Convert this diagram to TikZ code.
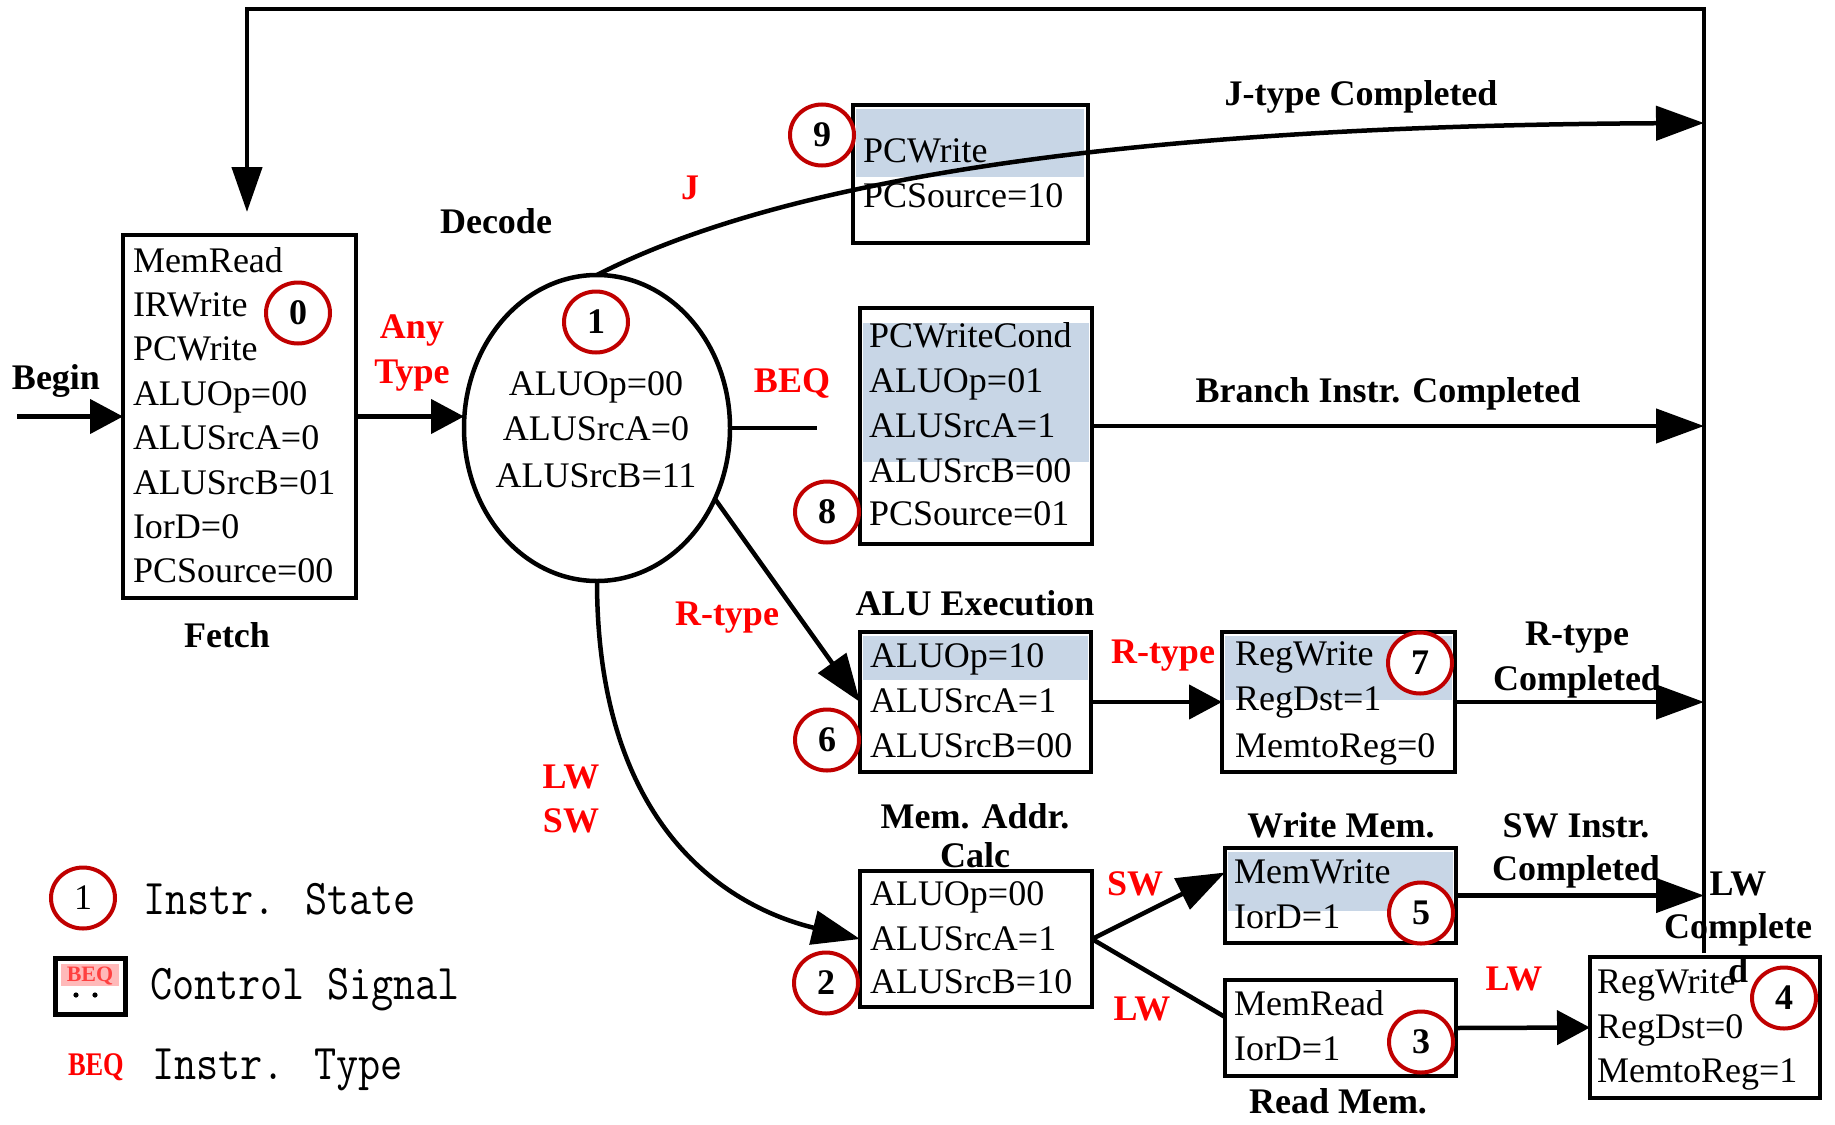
\documentclass[tikz,border=0pt]{standalone}
\usepackage{fontspec}
\setmainfont{Liberation Serif}
\usepackage{graphicx}
\usetikzlibrary{arrows.meta,shapes.geometric,calc}
\definecolor{stred}{RGB}{192,0,0}
\definecolor{lblred}{RGB}{255,0,0}
\definecolor{shadec}{RGB}{200,214,230}
\definecolor{pinkc}{RGB}{255,185,185}
\newcommand\legfnt{\ttfamily\fontsize{50}{50}\selectfont}
\begin{document}
\begin{tikzpicture}[x=1pt,y=-1pt,
  every node/.style={inner sep=0pt, outer sep=0pt},
  txt/.style={anchor=base west, font=\fontsize{36}{36}\selectfont},
  ctxt/.style={anchor=base, font=\fontsize{36}{36}\selectfont},
  lbl/.style={anchor=base, font=\fontsize{36}{36}\selectfont\bfseries},
  rlbl/.style={lbl, text=lblred},
  stbox/.style={draw, line width=4.5pt, fill=white, rectangle, anchor=north west},
  snum/.style={ellipse, draw=stred, line width=4pt, fill=white, minimum width=64pt, minimum height=61pt, font=\fontsize{36}{36}\selectfont\bfseries},
  conn/.style={line width=4.5pt},
  sarr/.style={conn, -{Triangle[length=33pt,width=34pt]}},
  larr/.style={conn, -{Triangle[length=48pt,width=34pt]}},
  legtxt/.style={anchor=base west, font=\legfnt}
]
\useasboundingbox (0,0) rectangle (1835,1124);
\fill[white] (0,0) rectangle (1835,1124);

% coordinates
\coordinate (begin) at (17,416.5);
\coordinate (vtop) at (1704,9);
\coordinate (vbot) at (1704,953);
\coordinate (ltop) at (247,9);
\coordinate (jend) at (1704,123);
\coordinate (beqend) at (817,428);

% state boxes
\node[stbox, minimum width=233pt, minimum height=363pt] (fetch) at (123,235) {};
\node[ellipse, draw, line width=4.5pt, fill=white, minimum width=266pt, minimum height=306pt] (decode) at (597,428) {};
\node[stbox, minimum width=235pt, minimum height=138pt] (b9) at (853,105) {};
\node[stbox, minimum width=232pt, minimum height=236pt] (b8) at (860,308) {};
\node[stbox, minimum width=231pt, minimum height=140pt] (b6) at (860,632) {};
\node[stbox, minimum width=233pt, minimum height=140pt] (b7) at (1222,632) {};
\node[stbox, minimum width=232pt, minimum height=136pt] (b2) at (860,871) {};
\node[stbox, minimum width=231pt, minimum height=95pt] (b5) at (1225,848) {};
\node[stbox, minimum width=231pt, minimum height=96pt] (b3) at (1225,980) {};
\node[stbox, minimum width=230pt, minimum height=141pt] (b4) at (1590,957) {};

% highlighted parts
\fill[shadec] (856,109) rectangle (1084,177);
\fill[shadec] (863,323) rectangle (1089,462);
\fill[shadec] (863,636) rectangle (1088,680);
\fill[shadec] (1225,636) rectangle (1452,700);
\fill[shadec] (1228,852) rectangle (1453,911);

% box texts
\foreach \t [count=\i] in {MemRead,IRWrite,PCWrite,ALUOp=00,ALUSrcA=0,ALUSrcB=01,IorD=0,PCSource=00}
  \node[txt] (ft\i) at (133,{272+44.4*(\i-1)}) {\t};
\foreach \t/\y [count=\i] in {ALUOp=00/395,ALUSrcA=0/440,ALUSrcB=11/487}
  \node[ctxt] (dt\i) at (596,\y) {\t};
\foreach \t/\y [count=\i] in {PCWrite/162,PCSource=10/207}
  \node[txt] (t9\i) at (863,\y) {\t};
\foreach \t/\y [count=\i] in {PCWriteCond/347,ALUOp=01/392,ALUSrcA=1/437,ALUSrcB=00/482,PCSource=01/525}
  \node[txt] (t8\i) at (869,\y) {\t};
\foreach \t/\y [count=\i] in {ALUOp=10/667,ALUSrcA=1/712,ALUSrcB=00/757}
  \node[txt] (t6\i) at (870,\y) {\t};
\foreach \t/\y [count=\i] in {RegWrite/665,RegDst=1/710,MemtoReg=0/757}
  \node[txt] (t7\i) at (1235,\y) {\t};
\foreach \t/\y [count=\i] in {ALUOp=00/905,ALUSrcA=1/950,ALUSrcB=10/993}
  \node[txt] (t2\i) at (870,\y) {\t};
\foreach \t/\y [count=\i] in {MemWrite/883,IorD=1/928}
  \node[txt] (t5\i) at (1234,\y) {\t};
\foreach \t/\y [count=\i] in {MemRead/1015,IorD=1/1060}
  \node[txt] (t3\i) at (1234,\y) {\t};
\foreach \t/\y [count=\i] in {RegWrite/993,RegDst=0/1038,MemtoReg=1/1082}
  \node[txt] (t4\i) at (1597,\y) {\t};

% labels
\node[lbl] (lbegin) at (56,389) {Begin};
\node[lbl] (lfetch) at (227,647) {Fetch};
\node[rlbl] (lany) at (412,338) {Any};
\node[rlbl] (ltype) at (412,383) {Type};
\node[lbl] (ldecode) at (496,233) {Decode};
\node[rlbl] (lj) at (690,199) {J};
\node[lbl] (ljdone) at (1361,105) {J-type Completed};
\node[rlbl] (lbeq) at (792,392) {BEQ};
\node[lbl] (lbdone) at (1388,402) {Branch Instr. Completed};
\node[rlbl] (lr1) at (727,625) {R-type};
\node[lbl] (lalu) at (975,615) {ALU Execution};
\node[rlbl] (lr2) at (1163,663) {R-type};
\node[lbl] (lrd1) at (1577,645) {R-type};
\node[lbl] (lrd2) at (1577,690) {Completed};
\node[rlbl] (llw1) at (571,788) {LW};
\node[rlbl] (lsw1) at (571,832) {SW};
\node[lbl] (lmem1) at (975,828) {Mem. Addr.};
\node[lbl] (lmem2) at (975,867) {Calc};
\node[lbl] (lwm) at (1341,837) {Write Mem.};
\node[lbl] (lsd1) at (1576,837) {SW Instr.};
\node[lbl] (lsd2) at (1576,880) {Completed};
\node[rlbl] (lsw2) at (1135,895) {SW};
\node[rlbl] (llw2) at (1142,1020) {LW};
\node[rlbl] (llw3) at (1514,990) {LW};
\node[lbl] (lld1) at (1738,895) {LW};
\node[lbl] (lld2) at (1738,938) {Complete};
\node[lbl] (lld3) at (1738,982) {d};
\node[lbl] (lrm) at (1338,1113) {Read Mem.};

% connectors
\draw[sarr] (begin) -- (fetch.west);
\draw[sarr] (fetch.east) -- (fetch.east -| decode.west);
\draw[conn, shorten >=23pt, -{Triangle[length=45pt,width=30pt]}] (vbot) -- (vtop) -- (ltop) -- (fetch.north -| ltop);
\draw[larr] (decode.north) .. controls (840,150) and (1300,125) .. (jend);
\draw[conn] (decode.east) -- (beqend);
\draw[larr] (b8.east) -- (b8.east -| vtop);
\draw[larr] (decode.-31) -- (b6.west);
\draw[larr] (decode.south) .. controls (597,820) and (720,905) .. (b2.west);
\draw[sarr] (b6.east) -- (b7.west);
\draw[larr] (b7.east) -- (b7.east -| vtop);
\draw[larr] (b2.east) -- ($(b5.west)+(0,-23)$);
\draw[conn] (b2.east) -- ($(b3.west)+(0,-11)$);
\draw[larr] (b5.east) -- (b5.east -| vtop);
\draw[sarr] (b3.east) -- (b4.west);

% state numbers
\node[snum] (c0) at (298,313) {0};
\node[snum] (c1) at (596,322) {1};
\node[snum] (c9) at (822,135) {9};
\node[snum] (c8) at (827,512) {8};
\node[snum] (c6) at (827,740) {6};
\node[snum] (c7) at (1420,663) {7};
\node[snum] (c2) at (826,983) {2};
\node[snum] (c5) at (1421,913) {5};
\node[snum] (c3) at (1421,1042) {3};
\node[snum] (c4) at (1784,998) {4};

% legend
\node[snum, font=\fontsize{36}{36}\selectfont] (lg1) at (83,898) {1};
\node[legtxt] (lgt1) at (143,914) {\scalebox{0.86}[1]{Instr. State}};
\node[draw, line width=5pt, minimum width=70pt, minimum height=56pt, anchor=north west] (lgicon) at (55,958) {};
\fill[pinkc] (61,964) rectangle (119,986);
\node[text=lblred!75, font=\fontsize{22}{22}\selectfont\bfseries] (lgiconbeq) at (90,976) {BEQ};
\fill (76,995) circle (2.6);
\fill (95,995) circle (2.6);
\node[legtxt] (lgt2) at (150,999) {\scalebox{0.86}[1]{Control Signal}};
\node[anchor=base west, text=lblred, font=\fontsize{33}{33}\selectfont\bfseries] (lgbeq) at (68,1075) {\scalebox{0.8}[1]{BEQ}};
\node[legtxt] (lgt3) at (152,1079) {\scalebox{0.86}[1]{Instr. Type}};
\end{tikzpicture}
\end{document}
